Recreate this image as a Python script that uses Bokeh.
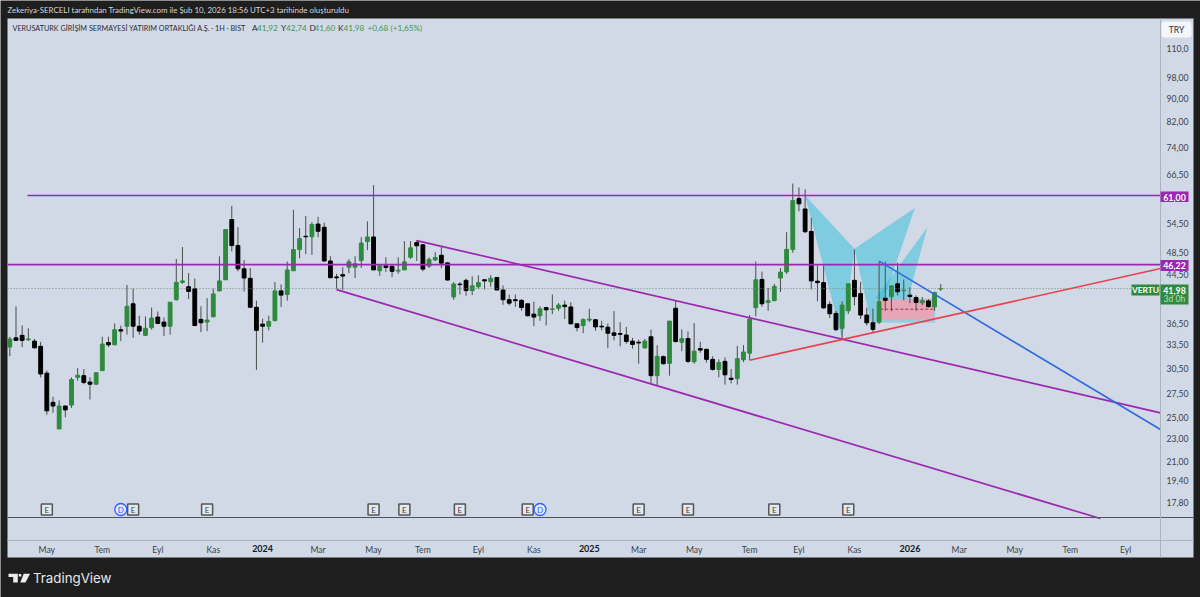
import math
from bokeh.plotting import figure
from bokeh.embed import file_html
from bokeh.resources import INLINE
from bokeh.core.properties import value
from bokeh.models import (ColumnDataSource, Range1d, FixedTicker, Label, BoxAnnotation,
                          PolyAnnotation, LinearAxis, LogAxis)

opens = [33.2,34.45,34.8,34.2,34.0,33.3,29.9,26.6,23.9,26.2,
 26.3,29.4,29.6,28.85,28.6,30.2,33.8,33.5,35.6,36.1,
 39.5,36.1,34.8,35.9,37.45,36.7,36.1,40.15,43.05,42.3,
 41.95,37.1,36.7,37.5,41.6,43.5,55.4,49.9,45.45,43.75,
 38.95,36.4,36.1,36.9,41.6,41.0,45.1,49.1,51.8,51.7,
 54.4,53.7,46.9,44.0,44.4,45.75,45.75,47.0,50.7,51.65,
 45.1,46.0,45.9,45.05,45.25,47.6,50.5,50.05,45.95,47.1,
 48.0,46.55,40.6,42.75,43.4,41.65,42.3,43.5,43.15,43.9,
 41.75,40.15,40.15,40.05,39.5,37.9,37.65,38.9,38.6,38.8,
 39.3,39.0,36.45,36.2,37.0,37.05,36.1,35.95,35.15,35.05,
 34.85,34.0,33.85,33.1,34.6,29.6,31.95,31.1,38.8,33.85,
 34.35,31.3,33.0,32.9,31.6,30.35,31.35,29.3,29.25,31.55,
 32.4,38.9,43.55,39.7,40.0,43.8,44.9,49.1,60.25,57.8,
 52.8,43.25,43.0,39.4,38.0,35.8,38.4,43.4,41.15,37.75,
 36.6,36.7,40.4,40.65,42.8,41.65,40.9,40.5,39.65,39.95,
 39.0,41.92]
closes = [34.3,34.1,34.1,34.3,33.1,29.8,25.7,26.2,26.2,25.8,
 29.15,29.65,28.8,28.6,29.95,33.6,33.5,35.6,35.4,39.1,
 36.1,35.4,35.8,37.3,36.5,36.1,39.75,43.05,43.3,41.5,
 36.2,36.6,37.0,41.1,43.3,53.2,49.9,45.45,43.8,38.95,
 35.5,36.1,36.8,41.6,40.9,45.25,49.1,51.3,51.7,54.3,
 52.85,46.9,43.85,43.85,44.15,46.75,46.4,50.4,51.65,45.25,
 46.0,45.7,45.0,45.2,46.75,49.45,49.85,45.4,47.2,47.55,
 46.5,43.45,42.75,42.65,41.65,42.45,43.0,43.3,43.75,41.75,
 40.15,39.6,40.0,38.9,37.65,37.45,38.7,38.55,38.7,39.3,
 39.05,36.45,35.9,37.1,37.15,36.0,36.0,35.1,34.8,34.95,
 33.95,33.55,33.75,34.0,29.6,32.0,31.05,36.85,33.95,34.35,
 31.35,32.65,32.8,31.6,30.35,31.2,29.7,29.15,31.7,32.55,
 37.15,43.5,39.5,40.0,42.35,44.85,49.15,59.8,59.0,52.75,
 43.3,43.0,38.85,37.95,35.6,39.3,42.8,40.65,37.75,36.6,
 35.65,39.85,40.05,42.45,41.45,41.7,40.65,39.7,40.0,39.05,
 41.3,41.98]
highs = [34.6,39.1,36.2,35.8,34.3,33.9,30.2,27.2,26.8,26.3,
 29.4,30.5,30.4,29.4,30.0,34.6,34.6,36.5,36.2,42.6,
 42.0,37.65,37.55,38.9,38.3,37.4,39.75,47.3,49.6,44.7,
 43.7,39.1,40.4,41.95,47.8,53.2,58.5,53.7,47.1,45.6,
 40.0,37.2,37.65,43.1,42.7,46.8,57.6,53.5,56.2,54.8,
 56.0,54.7,47.8,44.55,45.75,47.25,47.8,51.6,55.0,63.6,
 46.1,47.6,46.25,47.6,50.8,50.8,51.0,50.1,47.6,48.6,
 49.7,46.6,43.1,43.1,43.7,44.1,44.3,43.5,44.3,44.0,
 42.5,41.0,41.0,40.25,39.5,39.85,39.1,39.0,41.0,39.6,
 40.0,39.75,36.5,37.25,38.7,37.15,36.9,36.5,38.35,36.7,
 36.0,34.45,34.2,34.3,35.6,33.45,32.1,36.85,40.1,35.65,
 35.35,36.55,33.9,33.0,32.0,31.6,31.85,30.4,33.35,33.45,
 37.75,46.8,44.95,42.1,42.8,45.6,52.65,64.0,63.0,62.55,
 55.8,46.05,46.05,39.9,38.4,39.9,42.8,49.1,43.1,38.9,
 38.75,46.8,46.8,42.5,46.6,43.55,42.2,40.85,40.6,40.25,
 41.45,42.74]
lows = [32.0,34.1,33.2,34.0,33.0,29.4,25.3,25.5,23.9,25.05,
 26.0,29.0,28.6,26.9,28.6,30.2,33.2,33.5,34.0,34.9,
 34.45,34.9,34.7,35.6,36.4,34.7,34.9,40.0,42.8,40.25,
 36.1,35.25,35.4,37.4,41.55,43.5,48.75,45.0,41.5,38.9,
 30.3,33.8,35.5,36.9,39.0,40.0,45.1,47.4,48.2,48.05,
 51.6,46.8,43.8,41.95,41.8,44.65,43.8,45.6,49.0,45.25,
 44.2,44.85,43.95,44.55,45.25,47.3,46.9,45.0,45.6,46.9,
 45.55,43.4,40.15,41.0,40.8,40.9,41.95,41.85,42.3,41.7,
 39.35,39.25,39.0,38.4,37.55,36.1,36.9,36.2,37.9,38.4,
 37.15,36.35,35.35,35.1,36.7,35.45,35.5,33.05,34.1,33.3,
 33.65,33.0,31.05,32.95,28.65,28.45,30.95,29.6,33.8,32.65,
 31.15,31.05,32.45,31.2,30.2,29.4,28.55,28.7,28.55,31.25,
 31.5,37.55,39.0,38.4,39.9,41.4,44.55,48.5,57.25,52.45,
 41.85,39.9,38.75,37.3,35.4,34.35,37.9,39.25,37.15,36.2,
 35.1,36.45,38.4,38.35,40.85,40.05,39.6,38.4,39.25,38.9,
 38.4,41.60]

price_ticks = [110.0, 98.0, 90.0, 82.0, 74.0, 66.5, 54.5, 48.5, 44.5, 36.5, 33.5, 30.5, 27.5, 25.0, 23.0, 21.0, 19.4, 17.8]
price_labels = ["110,0", "98,00", "90,00", "82,00", "74,00", "66,50", "54,50", "48,50", "44,50", "36,50", "33,50", "30,50", "27,50", "25,00", "23,00", "21,00", "19,40", "17,80"]
month_ticks = [6, 15, 24, 33, 50, 59, 67, 76, 85, 102, 111, 120, 128, 137, 154, 163, 172, 181]
month_labels = ["May", "Tem", "Eyl", "Kas", "Mar", "May", "Tem", "Eyl", "Kas", "Mar", "May", "Tem", "Eyl", "Kas", "Mar", "May", "Tem", "Eyl"]
year_ticks = [41, 94, 146]
year_labels = ["2024", "2025", "2026"]
earnings_bars = [6, 20, 32, 59, 64, 73, 84, 102, 110, 124, 136]
dividend_bars = [18, 86]
level_high = 61.00
level_mid = 46.22
last_price = 41.98

channel_upper = ([66, 186.64], [50.9, 25.5])
channel_lower = ([53, 176.9], [41.8, 16.68])
trend_blue = ([141, 186.64], [46.87, 23.85])
trend_red = ([120, 186.64], [31.5, 45.5])
pattern_xab = ([129, 135, 137], [61.0, 34.3, 49.26])
pattern_bcd = ([137, 140, 146.8], [49.26, 35.4, 58.0])
pattern_tip = ([140.25, 148.8, 145.65], [40.2, 53.6, 40.2])

BG = "#d1d9e6"
DARK = "#1e1e1e"
GREEN = "#2e8b3e"
PURPLE = "#9c27b0"
TXT = "#2a2e39"
FONT = "Lato"

def dx(px):
    return (px - 9.33) / 6.165

def dy(py):
    return 42 * math.exp((288 - py) / 249.1)

p = figure(width=1200, height=597, output_backend="svg", toolbar_location=None,
           x_range=Range1d(dx(0), dx(1200)), y_range=Range1d(dy(597), dy(0)),
           y_axis_type="log", x_axis_location=None, y_axis_location=None,
           min_border=0, background_fill_color=DARK, border_fill_color=DARK,
           outline_line_color=None)
p.grid.visible = False

axis_style = dict(major_tick_line_color=None, minor_tick_line_color=None, major_tick_out=0, major_tick_in=0,
                  axis_line_color="#aab2c0", major_label_text_font=FONT)
xax = LinearAxis(ticker=FixedTicker(ticks=month_ticks), fixed_location=dy(540), bounds=(dx(7), dx(1193)),
                 major_label_overrides=dict(zip(month_ticks, month_labels)),
                 major_label_text_color="#3a3f4c", major_label_text_font_size="8.6px",
                 major_label_standoff=4, **axis_style)
p.add_layout(xax, "below")
yrax = LinearAxis(ticker=FixedTicker(ticks=year_ticks), fixed_location=dy(540), bounds=(dx(7), dx(1193)),
                  major_label_overrides=dict(zip(year_ticks, year_labels)),
                  major_label_text_color="#131722", major_label_text_font_size="9px",
                  major_label_text_font_style="bold", major_label_standoff=4, **axis_style)
p.add_layout(yrax, "below")
yax = LogAxis(ticker=FixedTicker(ticks=price_ticks), fixed_location=dx(1160), bounds=(dy(557), dy(18)),
              major_label_overrides=dict(zip(price_ticks, price_labels)),
              major_label_text_color="#3a3f4c", major_label_text_font_size="8.6px",
              major_label_standoff=6, **axis_style)
p.add_layout(yax, "right")

# chart pane
p.quad(left=[dx(7)], right=[dx(1193)], top=[dy(18)], bottom=[dy(557)], fill_color=BG, line_color=None)

# harmonic patterns and position box under the candles
cyan = dict(fill_color="#25bcd8", fill_alpha=0.48, line_color=None)
p.patch(*pattern_xab, **cyan)
p.patch(*pattern_bcd, **cyan)
p.patch(*pattern_tip, **cyan)
p.quad(left=[140.25], right=[150.1], top=[40.3], bottom=[36.6], fill_color="#8fc9da", fill_alpha=0.8, line_color=None)
p.quad(left=[141.2], right=[149.9], top=[40.2], bottom=[37.1], fill_color="#e6a6b8", fill_alpha=1.0, line_color=None)
p.line([141.2, 149.9], [38.65, 38.65], line_color="#a0305a", line_width=1, line_dash="3 2")

idx = list(range(len(opens)))
src = ColumnDataSource(dict(
    x=idx, o=opens, h=highs, l=lows, c=closes,
    top=[max(a, b) for a, b in zip(opens, closes)],
    bot=[min(a, b) for a, b in zip(opens, closes)],
    col=[GREEN if c >= o else "#000000" for o, c in zip(opens, closes)],
))
p.segment("x", "h", "x", "l", source=src, line_color="#4a4d4a", line_width=1)
p.vbar(x="x", width=0.62, top="top", bottom="bot", source=src, fill_color="col", line_color="col", line_width=1)

# levels and trend lines
p.line([dx(7), dx(1160)], [last_price, last_price], line_color="#6f8a76", line_width=1, line_dash="1 2")
p.line([dx(27), dx(1160)], [level_high, level_high], line_color=PURPLE, line_width=1.6)
p.line([dx(7), dx(1160)], [level_mid, level_mid], line_color=PURPLE, line_width=1.6)
p.line(*channel_upper, line_color=PURPLE, line_width=1.7)
p.line(*channel_lower, line_color=PURPLE, line_width=1.7)
p.line(*trend_blue, line_color="#2f6be0", line_width=1.6)
p.line(*trend_red, line_color="#e8404f", line_width=1.6)

# separator of the empty lower pane
p.line([dx(7), dx(1193)], [dy(517), dy(517)], line_color="#4d5361", line_width=1)

# event markers
yev = dy(509)
p.scatter(earnings_bars, [yev] * len(earnings_bars), marker="square", size=11,
          fill_color="#e4e8ef", line_color="#555555", line_width=1.5)
p.text(earnings_bars, [yev] * len(earnings_bars), text=["E"] * len(earnings_bars),
       text_font=value(FONT), text_font_size="8px", text_color="#444444",
       text_align="center", text_baseline="middle")
p.scatter(dividend_bars, [yev] * len(dividend_bars), marker="circle", size=12,
          fill_color="#e4e8ef", line_color="#2962ff", line_width=1.3)
p.text(dividend_bars, [yev] * len(dividend_bars), text=["D"] * len(dividend_bars),
       text_font=value(FONT), text_font_size="8px", text_color="#2962ff",
       text_align="center", text_baseline="middle")

def box(x0, x1, y0, y1, color, radius=0):
    p.add_layout(BoxAnnotation(left=dx(x0), right=dx(x1), top=dy(y0), bottom=dy(y1),
                               fill_color=color, fill_alpha=1, line_color=None,
                               border_radius=radius, level="overlay"))

def txt(x, y, s, color=TXT, size="9px", align="left", style="normal", font=FONT):
    p.add_layout(Label(x=dx(x), y=dy(y), text=s, text_color=color, text_font_size=size,
                       text_align=align, text_baseline="middle", text_font_style=style,
                       text_font=font, level="overlay"))

# header
txt(7, 9.5, "Zekeriya-SERCELI tarafından TradingView.com ile Şub 10, 2026 18:56 UTC+3 tarihinde oluşturuldu",
    color="#d6d6d6", size="7.9px")
txt(12, 27.5, "VERUSATURK GİRİŞİM SERMAYESİ YATIRIM ORTAKLIĞI A.Ş. · 1H · BIST", size="7.25px")
for xp, s, c in [(251.5, "A", TXT), (256.5, "41,92", "#3c9a50"), (280.5, "Y", TXT), (285.5, "42,74", "#3c9a50"),
                 (309, "D", TXT), (314, "41,60", "#3c9a50"), (337.5, "K", TXT), (343, "41,98", "#3c9a50"),
                 (367, "+0,68 (+1,65%)", "#3c9a50")]:
    txt(xp, 27.5, s, color=c, size="8.2px")

# price scale badges
box(1161, 1191, 21, 37, "#f4f6fa", radius=3)
txt(1176, 29.5, "TRY", size="8.6px", align="center")
box(1160, 1188, 191, 201.5, PURPLE)
txt(1174, 196.5, "61,00", color="#ffffff", size="8.8px", align="center", style="bold")
box(1160, 1188, 259.5, 270.5, PURPLE)
txt(1174, 265, "46,22", color="#ffffff", size="8.8px", align="center", style="bold")
box(1131, 1159, 284, 295, GREEN)
txt(1145, 289.5, "VERTU", color="#ffffff", size="8.4px", align="center", style="bold")
box(1160, 1188, 284, 304, GREEN)
txt(1174, 289.5, "41,98", color="#ffffff", size="8.8px", align="center", style="bold")
txt(1174, 298.5, "3d 0h", color="#b8e0c0", size="8.6px", align="center")

# logo
def poly(pts):
    p.add_layout(PolyAnnotation(xs=[dx(a) for a, b in pts], ys=[dy(b) for a, b in pts],
                                fill_color="#ececec", fill_alpha=1, line_color=None, level="overlay"))
poly([(8, 573.3), (17.3, 573.3), (17.3, 582), (12.7, 582), (12.7, 576.6), (8, 576.6)])
poly([(18.2, 573.4), (20.8, 573.4), (20.8, 576), (18.2, 576)])
poly([(23.2, 573.3), (29.5, 573.3), (25, 582), (19.8, 582)])
txt(32.5, 577, "TradingView", color="#e8e8e8", size="13.3px", font="Inter")

open("out.html", "w").write(file_html(p, INLINE))
